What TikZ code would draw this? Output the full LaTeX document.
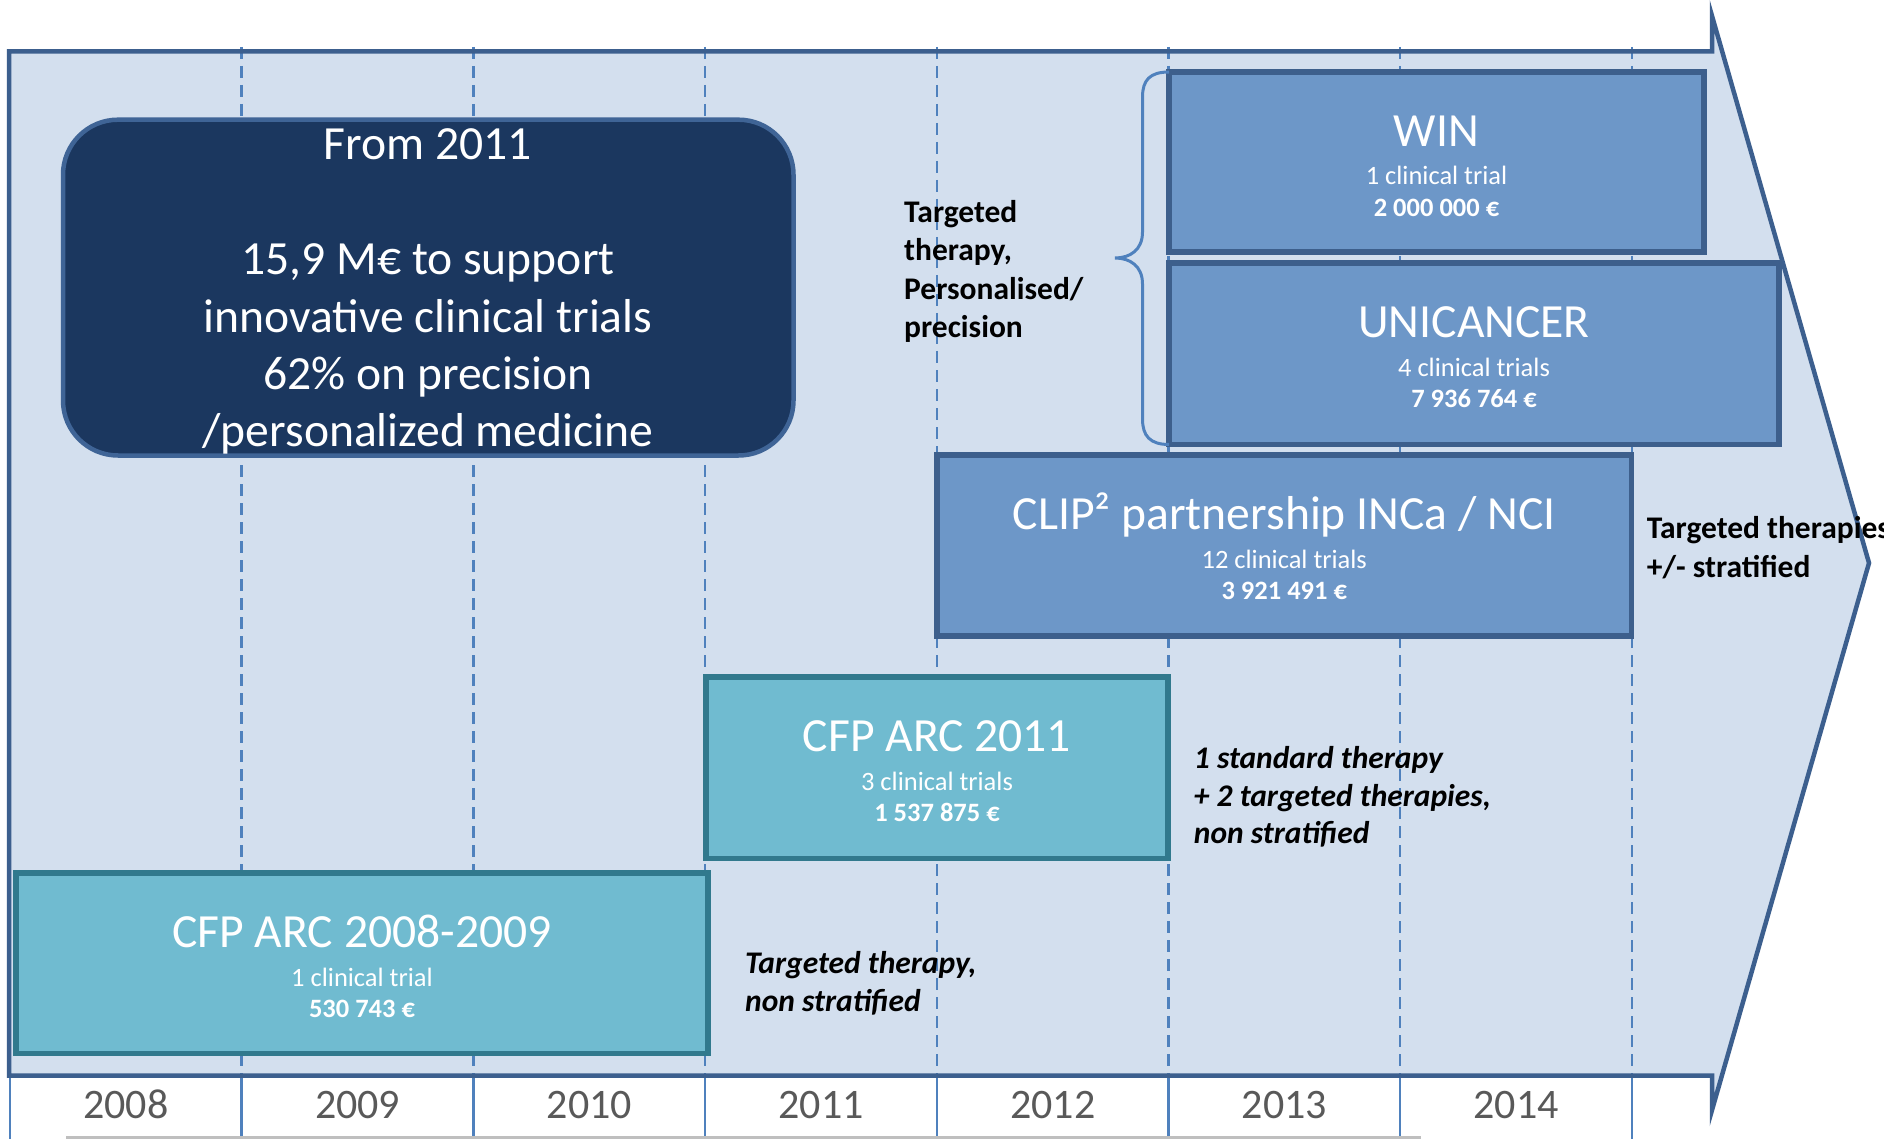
\documentclass[tikz,border=0pt]{standalone}
\usepackage{fontspec}
\setmainfont{Carlito}
\definecolor{arrowfill}{HTML}{D3DFEE}
\definecolor{arrowline}{HTML}{3C5F8E}
\definecolor{gridblue}{HTML}{4F81BD}
\definecolor{navyfill}{HTML}{1B375F}
\definecolor{navyline}{HTML}{3F6496}
\definecolor{bluefill}{HTML}{6D97C8}
\definecolor{blueline}{HTML}{3D5F8C}
\definecolor{tealfill}{HTML}{70BBD0}
\definecolor{tealline}{HTML}{31798D}
\definecolor{yeargrey}{HTML}{595959}
\definecolor{rulegrey}{HTML}{BFBFBF}
\newcommand{\fbigtxt}{\fontsize{47.6}{57}\selectfont}
\newcommand{\fsubtxt}{\fontsize{26.5}{32}\selectfont}
\newcommand{\fnotetxt}{\fontsize{31.5}{38}\selectfont}
\newcommand{\fyeartxt}{\fontsize{42}{50}\selectfont}
\begin{document}
\begin{tikzpicture}[x=1pt,y=-1pt,
  arrowborder/.style={draw=arrowline, line width=4.5pt, line join=miter},
  gridline/.style={draw=gridblue, line width=2.5pt, dash pattern=on 12pt off 7pt},
  yearline/.style={draw=gridblue, line width=2.5pt},
  navybox/.style={rectangle, draw=navyline, fill=navyfill, line width=4.5pt, rounded corners=55pt, inner sep=0pt, outer sep=0pt},
  bluebox/.style={rectangle, draw=blueline, fill=bluefill, line width=5.5pt, inner sep=0pt, outer sep=0pt},
  tealbox/.style={rectangle, draw=tealline, fill=tealfill, line width=5.5pt, inner sep=0pt, outer sep=0pt},
  bigtext/.style={text=white, font=\fbigtxt, inner sep=0pt, anchor=base},
  subtext/.style={text=white, font=\fsubtxt, inner sep=0pt, anchor=base},
  amttext/.style={text=white, font=\fsubtxt\bfseries, inner sep=0pt, anchor=base},
  notetext/.style={text=black, font=\fnotetxt\bfseries, inner sep=0pt, anchor=base west},
  noteital/.style={text=black, font=\fnotetxt\bfseries\itshape, inner sep=0pt, anchor=base west},
  yeartext/.style={text=yeargrey, font=\fyeartxt, inner sep=0pt, anchor=base},
  bracestyle/.style={draw=gridblue, line width=3pt}
]
\useasboundingbox (0,0) rectangle (1884,1139);
\fill[white] (0,0) rectangle (1884,1139);

% arrow body
\fill[arrowfill] (9,51.5) -- (1712,51.5) -- (1712,16) -- (1869,563) -- (1712,1110) -- (1712,1075.5) -- (9,1075.5) -- cycle;

% dashed year separators
\foreach \x in {241.7,473.4,705.1,936.8,1168.5,1400.2,1631.9}
  \draw[gridline] (\x,47) -- (\x,1075.5);

% year row separators
\foreach \x in {10,241.7,473.4,705.1,936.8,1168.5,1400.2,1631.9}
  \draw[yearline] (\x,1075.5) -- (\x,1139);
\draw[draw=rulegrey, line width=2.5pt] (66,1137.5) -- (1421,1137.5);

% arrow outline
\draw[arrowborder] (9,51.5) -- (1712,51.5) -- (1712,16) -- (1869,563) -- (1712,1110) -- (1712,1075.5) -- (9,1075.5) -- cycle;

% years
\node[yeartext] (y2008) at (125.9,1118) {2008};
\node[yeartext] (y2009) at (357.6,1118) {2009};
\node[yeartext] (y2010) at (589.3,1118) {2010};
\node[yeartext] (y2011) at (821.0,1118) {2011};
\node[yeartext] (y2012) at (1052.7,1118) {2012};
\node[yeartext] (y2013) at (1284.4,1118) {2013};
\node[yeartext] (y2014) at (1516.0,1118) {2014};

% From 2011 box
\node[navybox, minimum width=730.5pt, minimum height=335.8pt] (from) at (428.25,287.6) {};
\node[bigtext] (from1) at (428,159.3) {From 2011};
\node[bigtext] (from2) at (428,275) {15,9 M€ to support};
\node[bigtext] (from3) at (428,332.3) {innovative clinical trials};
\node[bigtext] (from4) at (428,389.6) {62\% on precision};
\node[bigtext] (from5) at (428,446.9) {/personalized medicine};

% WIN
\node[bluebox, minimum width=535pt, minimum height=180pt] (win) at (1436.5,162) {};
\node[bigtext] (wint) at ([yshift=-74.5pt]win.north) {WIN};
\node[subtext] (wins) at ([yshift=-38.5pt]wint.base) {1 clinical trial};
\node[amttext] (wina) at ([yshift=-31.5pt]wins.base) {2 000 000 €};

% UNICANCER
\node[bluebox, minimum width=610pt, minimum height=181.5pt] (uni) at (1474,353.75) {};
\node[bigtext] (unit) at ([yshift=-74.5pt]uni.north) {UNICANCER};
\node[subtext] (unis) at ([yshift=-38.5pt]unit.base) {4 clinical trials};
\node[amttext] (unia) at ([yshift=-31.5pt]unis.base) {7 936 764 €};

% brace
\draw[bracestyle] (win.north west) .. controls (1150,72) and (1142.5,80) .. (1142.5,97) -- (1142.5,232)
  .. controls (1142.5,250) and (1130,258) .. (1115,258)
  .. controls (1130,258) and (1142.5,266) .. (1142.5,284) -- (1142.5,419)
  .. controls (1142.5,436) and (1150,444.5) .. (uni.south west);

\node[notetext] (tp1) at (904,222.7) {Targeted};
\node[notetext] (tp2) at (904,260.9) {therapy,};
\node[notetext] (tp3) at (904,299.1) {Personalised/};
\node[notetext] (tp4) at (904,337.3) {precision};

% CLIP2
\node[bluebox, minimum width=694.5pt, minimum height=181pt] (clip) at (1284.25,545.5) {};
\node[bigtext] (clipt) at ([yshift=-74.5pt]clip.north) {CLIP² partnership INCa / NCI};
\node[subtext] (clips) at ([yshift=-38.5pt]clipt.base) {12 clinical trials};
\node[amttext] (clipa) at ([yshift=-31.5pt]clips.base) {3 921 491 €};

\node[notetext] (ts1) at (1646.7,538.5) {Targeted therapies};
\node[notetext] (ts2) at (1646.7,577) {+/- stratified};

% CFP ARC 2011
\node[tealbox, minimum width=462pt, minimum height=181.7pt] (cfp11) at (937,767.85) {};
\node[bigtext] (cfp11t) at ([yshift=-74.5pt]cfp11.north) {CFP ARC 2011};
\node[subtext] (cfp11s) at ([yshift=-38.5pt]cfp11t.base) {3 clinical trials};
\node[amttext] (cfp11a) at ([yshift=-31.5pt]cfp11s.base) {1 537 875 €};

\node[noteital] (st1) at (1193.7,768.3) {1 standard therapy};
\node[noteital] (st2) at (1193.7,806.1) {+ 2 targeted therapies,};
\node[noteital] (st3) at (1193.7,843.9) {non stratified};

% CFP ARC 2008-2009
\node[tealbox, minimum width=692pt, minimum height=180.5pt] (cfp08) at (362,963.25) {};
\node[bigtext] (cfp08t) at ([yshift=-74.5pt]cfp08.north) {CFP ARC 2008-2009};
\node[subtext] (cfp08s) at ([yshift=-38.5pt]cfp08t.base) {1 clinical trial};
\node[amttext] (cfp08a) at ([yshift=-31.5pt]cfp08s.base) {530 743 €};

\node[noteital] (tt1) at (745,973.3) {Targeted therapy,};
\node[noteital] (tt2) at (745,1011.3) {non stratified};
\end{tikzpicture}
\end{document}
